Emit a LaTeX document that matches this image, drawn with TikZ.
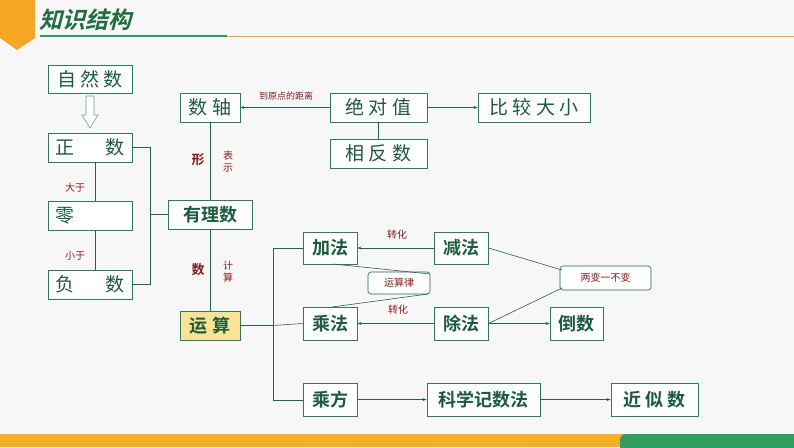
\documentclass[tikz,border=0pt]{standalone}
\usepackage{fontspec}
\setmainfont{Noto Sans CJK SC}[BoldFont={* Bold}]
\usetikzlibrary{arrows.meta}
\definecolor{bd}{HTML}{2E7D5A}
\definecolor{tx}{HTML}{1A5C40}
\definecolor{lb}{HTML}{8B1A1A}
\definecolor{org}{HTML}{F5A623}
\definecolor{gr}{HTML}{2E9E5E}
\begin{document}
\begin{tikzpicture}[x=1pt,y=-1pt,
 bx/.style={draw=bd,line width=0.9pt,fill=white,text=tx,font=\fontsize{19}{19}\selectfont,inner sep=0pt},
 bb/.style={bx,font=\fontsize{18}{18}\selectfont\bfseries},
 lbl/.style={text=lb,font=\fontsize{10}{10}\selectfont,inner sep=1pt},
 ln/.style={draw=bd!80!black,line width=0.6pt},
 ar/.style={ln,-{Stealth[length=4pt,width=3pt]}}]
\useasboundingbox (0,0) rectangle (794,447);
\fill[gray!6] (0,0) rectangle (794,447);
% header
\fill[org] (0,0) -- (35,0) -- (35,38) -- (17,50) -- (0,38) -- cycle;
\node[anchor=west,text=gr!70!black,font=\fontsize{23}{23}\selectfont\bfseries,xslant=0.25] (title) at (38,20) {知识结构};
\draw[gr,line width=1.2pt] (40,36) -- (227,36);
\draw[org,line width=0.8pt] (227,36) -- (794,36);
% footer
\fill[org!90!yellow] (0,434) rectangle (640,447);
\fill[gr,rounded corners=6pt] (620,434) rectangle (820,458);
% left column
\node[bx,minimum width=84,minimum height=28] (zr) at (90,79) {自 然 数};
\node[bx,minimum width=84,minimum height=29,text width=70,align=center] (zs) at (90,147.5) {正\hfill 数};
\node[bx,minimum width=84,minimum height=29,text width=70,align=left] (ling) at (90,215.5) {零};
\node[bx,minimum width=84,minimum height=29,text width=70,align=center] (fs) at (90,284.5) {负\hfill 数};
\draw[draw=bd!70,fill=white,line width=0.6pt] (86,96) -- (94,96) -- (94,115) -- (98,115) -- (90,128) -- (82,115) -- (86,115) -- cycle;
\draw[ln] (95,162) -- (95,201) (95,230) -- (95,270);
\node[lbl] (dy) at (75,188) {大于};
\node[lbl] (xy) at (75,256) {小于};
\node[bb,minimum width=84,minimum height=29] (yl) at (210,214.5) {有理数};
\draw[ln] (zs.east) -- (150,147.5) -- (150,284.5) -- (fs.east);
\draw[ln] (150,214.5) -- (yl.west);
% top
\node[bx,minimum width=60,minimum height=29] (sz) at (210,107.5) {数 轴};
\node[bx,minimum width=97,minimum height=29] (jd) at (378.5,107.5) {绝 对 值};
\node[bx,minimum width=112,minimum height=29] (bj) at (534,107.5) {比 较 大 小};
\node[bx,minimum width=97,minimum height=29] (xf) at (378.5,153.5) {相 反 数};
\draw[ar] (jd.west) -- (sz.east);
\node[lbl,font=\fontsize{9}{9}\selectfont] (dyd) at (286,96) {到原点的距离};
\draw[ar] (jd.east) -- (bj.west);
\draw[ln] (jd.south) -- (xf.north);
\draw[ln] (yl.north) -- (sz.south);
\node[text=lb,font=\fontsize{13}{13}\selectfont\bfseries] (xing) at (198,160) {形};
\node[lbl,align=center] (bs) at (228,162) {表\\[2pt]示};
% yunsuan
\node[bb,fill=yellow!50!orange!40,minimum width=60,minimum height=29] (ys) at (210,325.5) {运 算};
\draw[ln] (yl.south) -- (ys.north);
\node[text=lb,font=\fontsize{13}{13}\selectfont\bfseries] (shu) at (198,270) {数};
\node[lbl,align=center] (js) at (228,272) {计\\[2pt]算};
\draw[ln] (ys.east) -- (273,325.5);
\draw[ln] (303,248) -- (273,248) -- (273,400) -- (303,400);
\node[bb,minimum width=54,minimum height=32] (jf) at (330,248) {加法};
\node[bb,minimum width=54,minimum height=32] (jian) at (461,248) {减法};
\node[bb,minimum width=54,minimum height=33] (cf) at (330,323.5) {乘法};
\node[bb,minimum width=54,minimum height=33] (chu) at (461,323.5) {除法};
\node[bb,minimum width=53,minimum height=33] (ds) at (576.5,323.5) {倒数};
\node[bb,minimum width=54,minimum height=33] (cfa) at (330,399.5) {乘方};
\node[bb,minimum width=113,minimum height=33] (kx) at (483.5,399.5) {科学记数法};
\node[bb,minimum width=87,minimum height=33] (jss) at (654.5,399.5) {近 似 数};
\draw[ln] (273,325.5) -- (cf.west);
\node[draw=bd!80!black,rounded corners=3pt,fill=white,lbl,minimum width=62,minimum height=22,line width=0.6pt] (ysl) at (399,283) {运算律};
\node[draw=bd!80!black,rounded corners=3pt,fill=white,lbl,minimum width=91,minimum height=24,line width=0.6pt] (lb) at (605.5,278) {两变一不变};
\draw[ar] (jian.west) -- (jf.east);
\node[lbl] (zh1) at (397,235) {转化};
\draw[ar] (chu.west) -- (cf.east);
\node[lbl] (zh2) at (398,310) {转化};
\draw[ln] (333,264) -- (430,274);
\draw[ln] (332,307) -- (428,294);
\draw[ln] (jian.east) -- (562,270);
\draw[ln] (chu.east) -- (562,288);
\draw[ar] (chu.east) -- (ds.west);
\draw[ar] (cfa.east) -- (kx.west);
\draw[ar] (kx.east) -- (jss.west);
\end{tikzpicture}
\end{document}
